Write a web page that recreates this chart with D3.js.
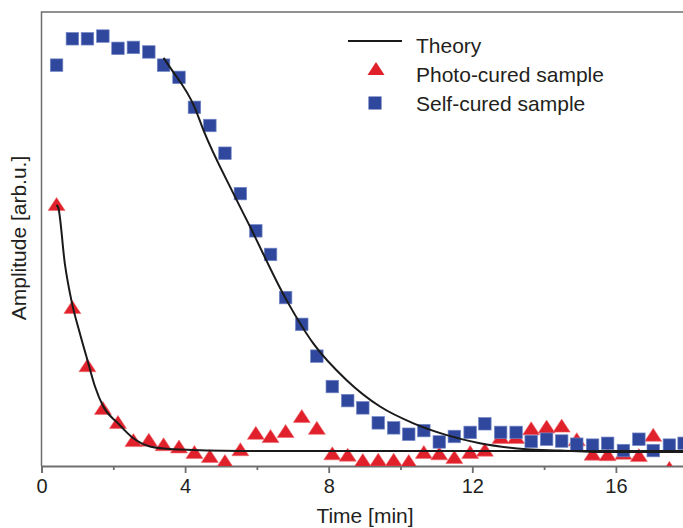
<!DOCTYPE html>
<html>
<head>
<meta charset="utf-8">
<script src="https://cdn.jsdelivr.net/npm/d3@7"></script>
<style>
    body { margin: 0; background: #fff; }
    svg { display: block; font-family: 'Liberation Sans', Arial, Helvetica, sans-serif; }
    .axis text { font-size: 20px; fill: #231f20; }
    .lbl { font-size: 21px; fill: #231f20; }
</style>
</head>
<body>
<div id="chart"></div>
<script>
// time in minutes, amplitude in arbitrary units (0..100)
var self_time = [0.42, 0.86, 1.28, 1.71, 2.13, 2.56, 2.99, 3.40, 3.83, 4.26, 4.69,
    5.11, 5.54, 5.97, 6.38, 6.80, 7.25, 7.67, 8.10, 8.53, 8.95, 9.38, 9.81, 10.23,
    10.65, 11.08, 11.50, 11.94, 12.35, 12.79, 13.22, 13.64, 14.07, 14.49, 14.91,
    15.35, 15.77, 16.21, 16.64, 17.04, 17.49, 17.90];
var self_amp = [88.3, 94.1, 94.1, 94.7, 92.0, 92.2, 91.2, 88.3, 85.6, 79.0, 75.0,
    68.9, 60.0, 51.8, 46.6, 37.1, 31.2, 24.2, 17.5, 14.4, 12.8, 9.5, 8.4, 7.0,
    7.8, 5.3, 6.5, 7.4, 9.3, 7.4, 7.4, 5.4, 5.9, 5.5, 4.8,
    4.6, 5.0, 3.4, 5.9, 3.4, 4.6, 5.0];

var photo_time = self_time.slice(0, 41);
var photo_amp = [57.7, 35.0, 22.2, 12.8, 9.7, 5.7, 5.8, 4.8, 4.3, 3.1, 2.2,
    1.1, 3.7, 7.3, 6.6, 7.7, 11.0, 8.4, 2.8, 2.5, 1.3, 1.4, 1.4, 1.1,
    3.1, 2.8, 2.0, 3.1, 3.6, 6.4, 6.4, 8.3, 8.7, 8.9, 5.9,
    2.7, 2.6, 2.9, 2.4, 6.9, -0.4];

// theory curves
var photo_theory_t = [0.42, 0.47, 0.65, 0.84, 1.07, 1.28, 1.49, 1.72, 2.12, 2.56, 3.02, 3.67, 5.53, 19];
var photo_theory_a = [57.5, 56.8, 44.6, 36.2, 29.2, 23.3, 17.5, 13.1, 9.5, 6.1, 4.3, 3.7, 3.3, 3.3];

var self_theory_t = [3.40, 3.58, 4.26, 4.51, 5.34, 5.81, 6.78, 7.57, 8.50, 9.43, 10.36, 11.29, 12.21, 13.52, 14.44, 15.37, 19];
var self_theory_a = [89.9, 87.8, 79.1, 74.0, 60.1, 52.7, 37.2, 27.0, 18.9, 13.1, 9.4, 6.8, 5.0, 3.7, 3.4, 3.1, 3.1];

var major_ticks = [0, 4, 8, 12, 16];
var minor_ticks = [2, 6, 10, 14, 18];

var legend_labels = ['Theory', 'Photo-cured sample', 'Self-cured sample'];

var red = '#e0202a',
    blue = '#2f479c',
    frame = '#6e6e6e';

var width = 683, height = 528;
var x = d3.scaleLinear().domain([0, 18.5]).range([41.5, 41.5 + 18.5 * 35.9]);
var y = d3.scaleLinear().domain([0, 100]).range([466, 12]);

var svg = d3.select('#chart').append('svg')
    .attr('width', width)
    .attr('height', height);

svg.append('clipPath').attr('id', 'plotclip')
  .append('rect')
    .attr('x', x(0))
    .attr('y', y(100))
    .attr('width', x(18.5) - x(0))
    .attr('height', y(0) - y(100));

// frame: top and left
svg.append('path')
    .attr('d', 'M' + x(0) + ',' + y(0) + 'V' + y(100) + 'H' + x(18.5))
    .attr('fill', 'none')
    .attr('stroke', frame)
    .attr('stroke-width', 1.5);

// x axis
var gx = svg.append('g')
    .attr('class', 'axis')
    .attr('transform', 'translate(0,' + y(0) + ')');
gx.call(d3.axisBottom(x).tickValues(major_ticks).tickSize(7).tickPadding(6).tickFormat(d3.format('d')));
gx.append('g').call(d3.axisBottom(x).tickValues(minor_ticks).tickSize(4).tickFormat(''))
    .select('.domain').remove();
gx.selectAll('.domain, line').attr('stroke', frame).attr('stroke-width', 1.8);
gx.selectAll('text').attr('font-family', null).attr('font-size', null);

// axis labels
svg.append('text')
    .attr('class', 'lbl')
    .attr('x', 365)
    .attr('y', 523)
    .attr('text-anchor', 'middle')
    .text('Time [min]');

svg.append('text')
    .attr('class', 'lbl')
    .attr('transform', 'translate(26,238) rotate(-90)')
    .attr('text-anchor', 'middle')
    .text('Amplitude [arb.u.]');

var plot = svg.append('g').attr('clip-path', 'url(#plotclip)');

var tri = 'M0,-6.5L8.5,6.5L-8.5,6.5Z';
var sq = 12.5;

// photo-cured triangles
var photo = photo_time.map((t, i) => ({ t: t, a: photo_amp[i] }));
plot.selectAll('path.photo')
    .data(photo)
    .enter().append('path')
        .attr('class', 'photo')
        .attr('d', tri)
        .attr('transform', d => 'translate(' + x(d.t) + ',' + y(d.a) + ')')
        .attr('fill', red)
        .attr('stroke', '#ef6a6e')
        .attr('stroke-width', 0.6);

// self-cured squares
var self = self_time.map((t, i) => ({ t: t, a: self_amp[i] }));
plot.selectAll('rect.self')
    .data(self)
    .enter().append('rect')
        .attr('class', 'self')
        .attr('x', d => x(d.t) - sq / 2)
        .attr('y', d => y(d.a) - sq / 2)
        .attr('width', sq)
        .attr('height', sq)
        .attr('fill', blue)
        .attr('stroke', '#7386c6')
        .attr('stroke-width', 0.7);

// theory lines
var line = d3.line()
    .x(d => x(d[0]))
    .y(d => y(d[1]))
    .curve(d3.curveMonotoneX);

[[photo_theory_t, photo_theory_a], [self_theory_t, self_theory_a]].forEach(function (s) {
    plot.append('path')
        .datum(s[0].map((t, i) => [t, s[1][i]]))
        .attr('d', line)
        .attr('fill', 'none')
        .attr('stroke', '#1a1a1a')
        .attr('stroke-width', 2);
});

// legend
var lg = svg.append('g');
lg.append('line')
    .attr('x1', 348).attr('x2', 402)
    .attr('y1', 41).attr('y2', 41)
    .attr('stroke', '#1a1a1a')
    .attr('stroke-width', 2.2);
lg.append('path')
    .attr('d', tri)
    .attr('transform', 'translate(376,68.5)')
    .attr('fill', red);
lg.append('rect')
    .attr('x', 375 - 6.5).attr('y', 103 - 6.5)
    .attr('width', 13).attr('height', 13)
    .attr('fill', blue);
lg.selectAll('text')
    .data(legend_labels)
    .enter().append('text')
        .attr('class', 'lbl')
        .attr('x', 416)
        .attr('y', (d, i) => 53 + i * 29)
        .text(d => d);
</script>
</body>
</html>
